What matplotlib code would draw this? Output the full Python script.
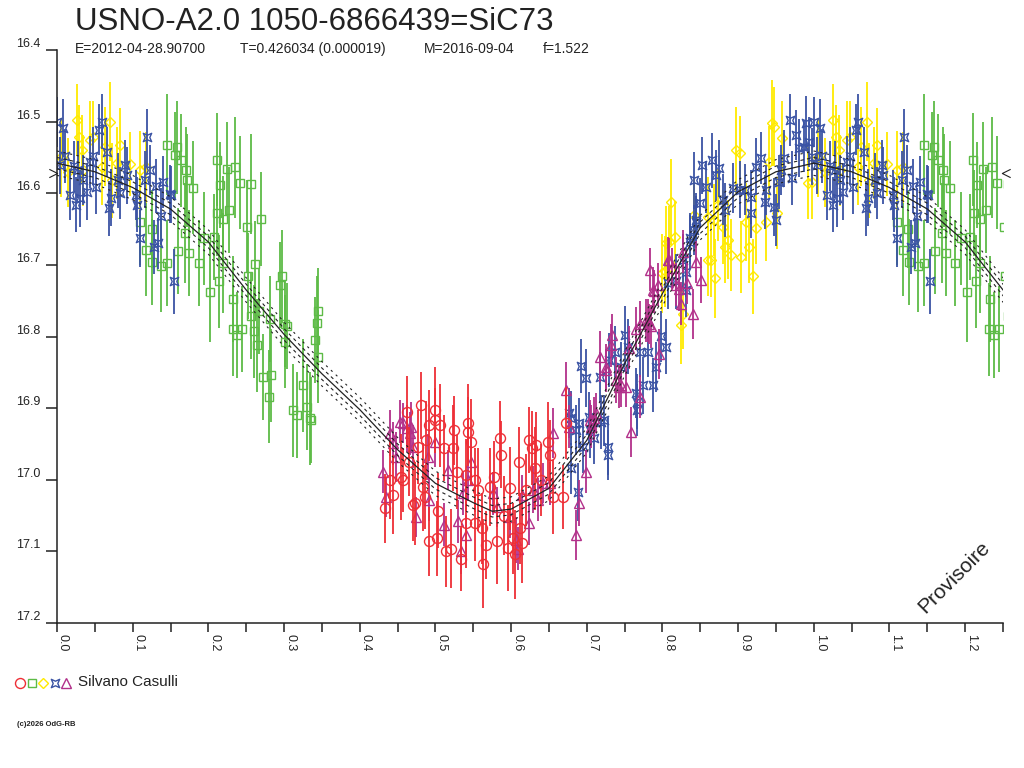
import numpy as np
import matplotlib.pyplot as plt
from matplotlib.path import Path

plt.rcParams['font.family'] = ['Liberation Sans', 'DejaVu Sans']

# light curve model (phase, mag), repeated after phase 1
curve_phase = [0.00, 0.05, 0.10, 0.15, 0.20, 0.25, 0.30, 0.35, 0.40, 0.45, 0.50,
               0.55, 0.575, 0.60, 0.65, 0.70, 0.75, 0.80, 0.85, 0.90, 0.95, 1.00]
curve_mag = [16.558, 16.570, 16.592, 16.622, 16.668, 16.735, 16.797, 16.852, 16.902, 16.958, 17.005,
             17.032, 17.044, 17.041, 17.012, 16.945, 16.838, 16.740, 16.648, 16.598, 16.570, 16.558]
band_offsets = [0.008, -0.008, 0.017, -0.017]
ref_mag = 16.572

# observations (red circles)
red_phase = [0.433, 0.444, 0.457, 0.455, 0.470, 0.473, 0.477, 0.481, 0.484, 0.486, 0.487, 0.492,
             0.492, 0.499, 0.499, 0.502, 0.506, 0.512, 0.514, 0.521, 0.523, 0.524, 0.528, 0.534,
             0.541, 0.541, 0.543, 0.543, 0.547, 0.552, 0.552, 0.556, 0.561, 0.563, 0.567, 0.572,
             0.578, 0.582, 0.585, 0.587, 0.598, 0.602, 0.605, 0.611, 0.615, 0.620, 0.624, 0.627,
             0.631, 0.633, 0.640, 0.649, 0.651, 0.655, 0.668, 0.673, 0.463, 0.590, 0.612, 0.596,
             0.504, 0.465, 0.440]
red_mag = [17.040, 17.021, 17.000, 16.996, 17.035, 17.033, 16.954, 16.896, 17.010, 17.024, 16.945, 16.924,
           17.086, 16.903, 16.917, 17.082, 16.924, 16.956, 17.100, 17.096, 16.956, 16.931, 16.989, 17.110,
           17.061, 16.993, 16.921, 16.933, 16.947, 17.061, 17.000, 17.014, 17.068, 17.117, 17.091, 17.010,
           16.996, 17.086, 16.942, 16.965, 17.012, 17.082, 17.104, 16.975, 17.089, 17.014, 16.945, 16.956,
           16.984, 16.951, 17.000, 16.947, 16.965, 17.024, 17.024, 16.921, 16.905, 17.050, 17.068, 17.095,
           17.043, 16.975, 17.000]
red_err = [0.048, 0.055, 0.045, 0.060, 0.050, 0.058, 0.052, 0.047, 0.062, 0.045, 0.055, 0.050,
           0.048, 0.060, 0.045, 0.052, 0.058, 0.046, 0.050, 0.055, 0.060, 0.048, 0.052, 0.045,
           0.062, 0.050, 0.055, 0.048, 0.060, 0.052, 0.045, 0.058, 0.050, 0.062, 0.048, 0.055,
           0.050, 0.060, 0.052, 0.047, 0.058, 0.050, 0.062, 0.048, 0.055, 0.050, 0.046, 0.052,
           0.058, 0.045, 0.050, 0.055, 0.048, 0.052, 0.045, 0.050, 0.050, 0.055, 0.050, 0.060,
           0.052, 0.048, 0.055]

# green squares
green_phase = [0.110, 0.118, 0.125, 0.126, 0.138, 0.145, 0.146, 0.156, 0.159, 0.160, 0.164, 0.169,
               0.171, 0.172, 0.175, 0.180, 0.187, 0.194, 0.202, 0.207, 0.211, 0.212, 0.214, 0.215,
               0.219, 0.220, 0.224, 0.227, 0.232, 0.233, 0.235, 0.238, 0.242, 0.245, 0.251, 0.253,
               0.256, 0.257, 0.260, 0.262, 0.264, 0.267, 0.269, 0.272, 0.280, 0.281, 0.283, 0.295,
               0.297, 0.301, 0.301, 0.304, 0.312, 0.317, 0.325, 0.330, 0.334, 0.336, 0.341, 0.344,
               0.345, 0.345]
green_mag = [16.640, 16.679, 16.650, 16.696, 16.701, 16.697, 16.532, 16.546, 16.536, 16.680, 16.554, 16.655,
             16.567, 16.582, 16.684, 16.592, 16.698, 16.663, 16.738, 16.661, 16.553, 16.628, 16.723, 16.588,
             16.697, 16.636, 16.566, 16.623, 16.790, 16.747, 16.564, 16.798, 16.585, 16.790, 16.647, 16.715,
             16.587, 16.772, 16.793, 16.699, 16.812, 16.765, 16.636, 16.856, 16.884, 16.775, 16.854, 16.728,
             16.716, 16.782, 16.807, 16.786, 16.903, 16.910, 16.868, 16.898, 16.914, 16.917, 16.805, 16.781,
             16.764, 16.828]
green_err = [0.060, 0.065, 0.055, 0.060, 0.065, 0.060, 0.070, 0.060, 0.065, 0.060, 0.065, 0.070,
             0.060, 0.065, 0.060, 0.065, 0.060, 0.065, 0.070, 0.060, 0.065, 0.060, 0.065, 0.060,
             0.070, 0.060, 0.065, 0.060, 0.065, 0.060, 0.070, 0.060, 0.065, 0.060, 0.065, 0.060,
             0.070, 0.060, 0.065, 0.060, 0.065, 0.060, 0.065, 0.060, 0.065, 0.060, 0.065, 0.060,
             0.065, 0.060, 0.065, 0.060, 0.065, 0.060, 0.065, 0.060, 0.065, 0.060, 0.060, 0.065,
             0.060, 0.065]

# yellow diamonds
yellow_phase = [0.026, 0.070, 0.029, 0.048, 0.044, 0.033, 0.083, 0.063, 0.079, 0.097, 0.059, 0.110,
                0.035, 0.015, 0.073, 0.118, 0.005, 0.800, 0.803, 0.805, 0.809, 0.811, 0.816, 0.824,
                0.827, 0.842, 0.860, 0.860, 0.864, 0.868, 0.870, 0.873, 0.880, 0.883, 0.886, 0.891,
                0.897, 0.902, 0.904, 0.910, 0.914, 0.920, 0.924, 0.937, 0.941, 0.945, 0.948, 0.951,
                0.958, 0.992, 0.998]
yellow_mag = [16.498, 16.500, 16.522, 16.521, 16.526, 16.539, 16.533, 16.535, 16.558, 16.559, 16.564, 16.568,
              16.568, 16.571, 16.582, 16.564, 16.550, 16.712, 16.709, 16.670, 16.668, 16.612, 16.661, 16.784,
              16.768, 16.630, 16.633, 16.693, 16.693, 16.637, 16.719, 16.616, 16.647, 16.675, 16.665, 16.686,
              16.540, 16.544, 16.689, 16.640, 16.675, 16.716, 16.649, 16.640, 16.556, 16.502, 16.507, 16.628,
              16.523, 16.586, 16.584]
yellow_err = [0.050, 0.055, 0.045, 0.050, 0.055, 0.048, 0.052, 0.055, 0.050, 0.045, 0.052, 0.055,
              0.050, 0.048, 0.052, 0.050, 0.055, 0.055, 0.050, 0.052, 0.050, 0.060, 0.050, 0.055,
              0.050, 0.052, 0.055, 0.050, 0.052, 0.050, 0.055, 0.050, 0.052, 0.050, 0.055, 0.050,
              0.060, 0.052, 0.050, 0.055, 0.050, 0.052, 0.050, 0.055, 0.050, 0.060, 0.055, 0.050,
              0.052, 0.050, 0.052]

# blue
blue_phase = [0.000, 0.008, 0.059, 0.056, 0.119, 0.066, 0.011, 0.004, 0.022, 0.048, 0.044, 0.028,
              0.035, 0.052, 0.039, 0.017, 0.030, 0.025, 0.090, 0.092, 0.081, 0.083, 0.072, 0.069,
              0.123, 0.116, 0.131, 0.140, 0.151, 0.104, 0.106, 0.137, 0.110, 0.128, 0.134, 0.154,
              0.149,
              0.677, 0.679, 0.679, 0.686, 0.688, 0.690, 0.693, 0.695, 0.699, 0.703, 0.704, 0.710,
              0.717, 0.719, 0.723, 0.728, 0.728, 0.730, 0.737, 0.745, 0.750, 0.754, 0.765, 0.766,
              0.767, 0.770, 0.774, 0.781, 0.787, 0.792, 0.798, 0.805, 0.807, 0.818, 0.827, 0.831,
              0.831, 0.836, 0.836, 0.842, 0.842, 0.844, 0.845, 0.849, 0.852, 0.857, 0.866, 0.871,
              0.875, 0.880, 0.883, 0.893, 0.902, 0.909, 0.917, 0.917, 0.924, 0.930, 0.935, 0.937,
              0.948, 0.950, 0.954, 0.956, 0.961, 0.968, 0.971, 0.977, 0.981, 0.987, 0.990, 0.994,
              0.998]
blue_mag = [16.501, 16.509, 16.500, 16.511, 16.522, 16.542, 16.548, 16.561, 16.562, 16.548, 16.556, 16.567,
            16.581, 16.591, 16.598, 16.602, 16.607, 16.616, 16.561, 16.575, 16.582, 16.600, 16.606, 16.621,
            16.568, 16.581, 16.590, 16.584, 16.602, 16.602, 16.616, 16.632, 16.663, 16.675, 16.670, 16.723,
            16.601,
            16.907, 16.914, 16.984, 16.931, 17.017, 16.921, 16.841, 16.954, 16.858, 16.912, 16.931, 16.942,
            16.857, 16.919, 16.917, 16.954, 16.965, 16.833, 16.821, 16.842, 16.798, 16.814, 16.879, 16.903,
            16.891, 16.821, 16.868, 16.821, 16.868, 16.842, 16.800, 16.814, 16.726, 16.723, 16.693, 16.710,
            16.735, 16.663, 16.668, 16.651, 16.582, 16.640, 16.637, 16.614, 16.561, 16.591, 16.554, 16.575,
            16.565, 16.609, 16.623, 16.593, 16.595, 16.595, 16.605, 16.628, 16.563, 16.551, 16.612, 16.595,
            16.619, 16.637, 16.584, 16.568, 16.551, 16.498, 16.579, 16.519, 16.537, 16.535, 16.502, 16.528,
            16.549]
blue_err = [0.035, 0.040, 0.038, 0.035, 0.040, 0.035, 0.038, 0.040, 0.035, 0.040, 0.036, 0.040,
            0.035, 0.038, 0.040, 0.036, 0.040, 0.038, 0.035, 0.040, 0.038, 0.036, 0.040, 0.038,
            0.035, 0.040, 0.038, 0.036, 0.040, 0.035, 0.038, 0.040, 0.040, 0.038, 0.036, 0.045,
            0.040,
            0.035, 0.038, 0.036, 0.035, 0.040, 0.035, 0.038, 0.036, 0.040, 0.035, 0.038, 0.036,
            0.035, 0.038, 0.036, 0.040, 0.035, 0.038, 0.036, 0.035, 0.040, 0.038, 0.035, 0.036,
            0.038, 0.035, 0.040, 0.036, 0.038, 0.035, 0.036, 0.038, 0.035, 0.038, 0.036, 0.035,
            0.038, 0.036, 0.038, 0.035, 0.040, 0.036, 0.038, 0.035, 0.040, 0.036, 0.038, 0.035,
            0.040, 0.036, 0.038, 0.035, 0.040, 0.036, 0.038, 0.035, 0.040, 0.036, 0.038, 0.035,
            0.040, 0.036, 0.038, 0.035, 0.040, 0.036, 0.038, 0.035, 0.040, 0.036, 0.038, 0.035,
            0.040]

# purple triangles
purple_phase = [0.431, 0.435, 0.440, 0.444, 0.448, 0.453, 0.457, 0.462, 0.466, 0.468, 0.470, 0.475,
                0.490, 0.492, 0.499, 0.512, 0.516, 0.530, 0.534, 0.536, 0.541, 0.543, 0.547, 0.576,
                0.582, 0.598, 0.607, 0.609, 0.615, 0.624, 0.629, 0.635, 0.642, 0.651, 0.655, 0.673,
                0.677, 0.686, 0.690, 0.699, 0.704, 0.706, 0.710, 0.712, 0.717, 0.725, 0.732, 0.734,
                0.739, 0.743, 0.745, 0.752, 0.756, 0.759, 0.765, 0.770, 0.770, 0.778, 0.781, 0.783,
                0.785, 0.787, 0.789, 0.794, 0.796, 0.807, 0.809, 0.813, 0.818, 0.822, 0.824, 0.827,
                0.833, 0.840, 0.844, 0.851, 0.782, 0.725]
purple_mag = [16.989, 17.024, 16.935, 16.949, 16.968, 16.919, 16.921, 16.928, 16.935, 16.926, 16.954, 17.052,
              16.968, 17.028, 16.947, 17.063, 16.986, 17.058, 17.100, 17.019, 17.077, 17.000, 16.975, 17.019,
              17.038, 17.052, 17.084, 17.096, 17.021, 17.061, 17.014, 17.028, 17.005, 17.005, 16.935, 16.875,
              16.926, 17.077, 17.033, 16.989, 16.917, 16.926, 16.914, 16.907, 16.828, 16.847, 16.812, 16.798,
              16.861, 16.870, 16.868, 16.870, 16.816, 16.933, 16.789, 16.782, 16.884, 16.777, 16.777, 16.707,
              16.786, 16.735, 16.737, 16.728, 16.825, 16.693, 16.693, 16.705, 16.728, 16.733, 16.754, 16.682,
              16.726, 16.768, 16.696, 16.721, 16.782, 16.842]
purple_err = [0.030, 0.028, 0.032, 0.030, 0.035, 0.030, 0.028, 0.033, 0.030, 0.035, 0.030, 0.028,
              0.032, 0.030, 0.035, 0.030, 0.028, 0.030, 0.032, 0.030, 0.028, 0.030, 0.033, 0.030,
              0.028, 0.030, 0.032, 0.030, 0.028, 0.030, 0.033, 0.030, 0.028, 0.030, 0.035, 0.040,
              0.030, 0.035, 0.032, 0.030, 0.028, 0.030, 0.030, 0.028, 0.035, 0.030, 0.030, 0.030,
              0.032, 0.030, 0.030, 0.028, 0.030, 0.035, 0.030, 0.032, 0.030, 0.030, 0.030, 0.030,
              0.030, 0.032, 0.030, 0.030, 0.035, 0.032, 0.030, 0.028, 0.030, 0.032, 0.030, 0.030,
              0.028, 0.035, 0.030, 0.032, 0.028, 0.032]

title = 'USNO-A2.0 1050-6866439=SiC73'
info = ['E=2012-04-28.90700', 'T=0.426034 (0.000019)', 'M=2016-09-04', 'f=1.522']
observer = 'Silvano Casulli'
credit = '(c)2026 OdG-RB'
watermark = 'Provisoire'

ink = '#222222'
col_red = '#EE2E36'
col_green = '#5DBB46'
col_yellow = '#FFEA00'
col_blue = '#3A53A4'
col_purple = '#B2308A'

# concave square marker for the blue series
bow = Path([(-1, 1), (0, 0.55), (1, 1), (0.55, 0), (1, -1), (0, -0.55), (-1, -1), (-0.55, 0), (-1, 1)],
           [Path.MOVETO] + [Path.LINETO] * 7 + [Path.CLOSEPOLY])
right_arrow = Path([(-1, 1), (1, 0), (-1, -1)], [Path.MOVETO, Path.LINETO, Path.LINETO])
left_arrow = Path([(1, 1), (-1, 0), (1, -1)], [Path.MOVETO, Path.LINETO, Path.LINETO])

series = [
    (green_phase, green_mag, green_err, 's', col_green, 5.2),
    (yellow_phase, yellow_mag, yellow_err, 'D', col_yellow, 5.4),
    (blue_phase, blue_mag, blue_err, bow, col_blue, 6.0),
    (purple_phase, purple_mag, purple_err, '^', col_purple, 6.5),
    (red_phase, red_mag, red_err, 'o', col_red, 7.2),
]

fig = plt.figure(figsize=(10.24, 7.68), dpi=100)
ax = fig.add_axes([57 / 1024, 1 - 623 / 768, (1003 - 57) / 1024, (623 - 50) / 768])

for ph, mg, er, mk, col, ms in series:
    ph = np.array(ph)
    for shift in (0, 1):
        ax.errorbar(ph + shift, mg, yerr=er, fmt='none', ecolor=col, elinewidth=1.3, zorder=2)
        ax.plot(ph + shift, mg, ls='none', marker=mk, ms=ms, mfc='none', mec=col, mew=1.0, zorder=2)

cp = np.array(curve_phase)
cm = np.array(curve_mag)
for shift in (0, 1):
    ax.plot(cp + shift, cm, color=ink, lw=0.9, zorder=3)
    for k, off in enumerate(band_offsets):
        dash = (3, 3) if k < 2 else (2, 4)
        ax.plot(cp + shift, cm + off, color=ink, lw=0.8, dashes=dash, zorder=3)

ax.plot([-0.0055], [ref_mag], ls='none', marker=right_arrow, ms=6, mfc='none', mec=ink, mew=0.8, clip_on=False)
ax.plot([1.2545], [ref_mag], ls='none', marker=left_arrow, ms=6, mfc='none', mec=ink, mew=0.8, clip_on=False)

ax.set_xlim(0, 1.25)
ax.set_ylim(17.2, 16.4)
xt = np.arange(0, 1.21, 0.1)
ax.set_xticks(xt)
ax.set_xticklabels([f'{v:.1f}' for v in xt])
ax.set_xticks(np.arange(0.05, 1.26, 0.1), minor=True)
yt = np.arange(16.4, 17.21, 0.1)
ax.set_yticks(yt)
ax.set_yticklabels([f'{v:.1f}' for v in yt])
ax.tick_params(axis='x', which='both', direction='out', length=6.5, width=1.1, pad=1.5,
               labelsize=9, colors=ink)
ax.tick_params(axis='y', direction='out', length=8, width=1.1, pad=4, labelsize=9, colors=ink)
for lab in ax.get_xticklabels():
    lab.set_rotation(-90)
    lab.set_ha('left')
    lab.set_va('top')
for lab in ax.get_yticklabels():
    lab.set_va('bottom')
for side in ('top', 'right'):
    ax.spines[side].set_visible(False)
for side in ('left', 'bottom'):
    ax.spines[side].set_linewidth(1.1)
    ax.spines[side].set_color(ink)

# texts and legend on a full-figure overlay in pixel units
ov = fig.add_axes([0, 0, 1, 1])
ov.set_xlim(0, 1024)
ov.set_ylim(768, 0)
ov.axis('off')
ov.text(75, 22, title, fontsize=22.5, ha='left', va='center', color=ink)
for xpos, s in zip([75, 240, 424, 543], info):
    ov.text(xpos, 49, s, fontsize=10, ha='left', va='center', color=ink)
for xpos, (_, _, _, mk, col, ms) in zip([20, 32, 43, 55, 66],
                                         [series[4], series[0], series[1], series[2], series[3]]):
    ov.plot([xpos], [683], ls='none', marker=mk, ms=ms, mfc='none', mec=col, mew=1.0)
ov.text(78, 682, observer, fontsize=11, ha='left', va='center', color=ink)
ov.text(17, 725, credit, fontsize=5.5, fontweight='bold', ha='left', va='center', color=ink)
ov.text(954, 577, watermark, fontsize=15, rotation=45, ha='center', va='center', color=ink)

fig.savefig('out.png', dpi=100)
